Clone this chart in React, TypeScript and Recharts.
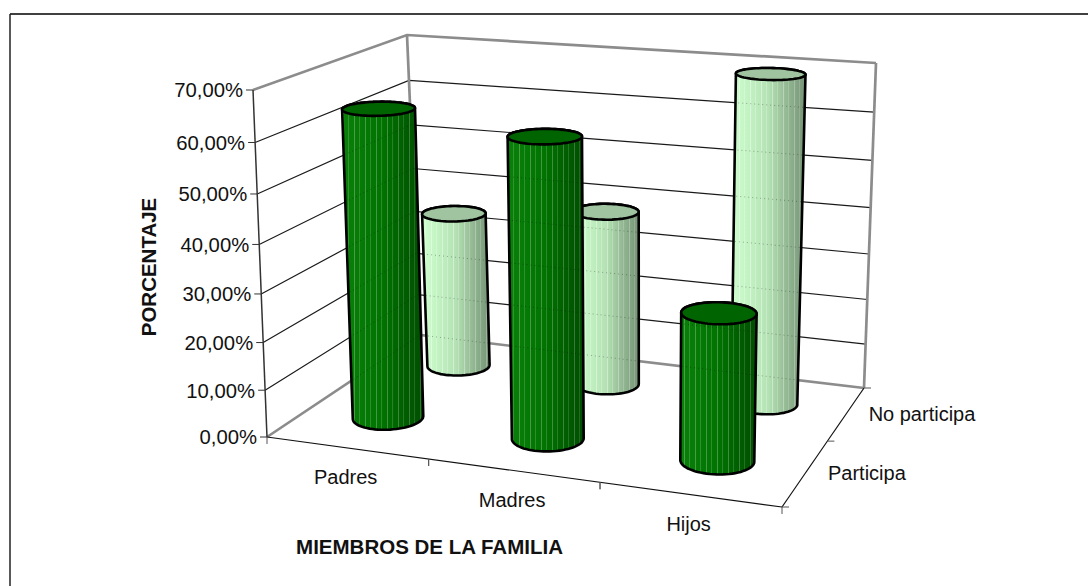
import { BarChart, Bar, XAxis, YAxis, CartesianGrid } from "recharts";

const categories = ["Padres", "Madres", "Hijos"];
const participa = [64.3, 61.3, 30];
const noParticipa = [35, 38.5, 69.5];
const yTicks = [0, 10, 20, 30, 40, 50, 60, 70];
const depthLabels = ["Participa", "No participa"];

const W = 1088;
const H = 586;
// los ejes ocupan 1px cada uno (con 0 no se dibujan)
const PLOT_X = 1;
const PLOT_W = W - 1;
const PLOT_H = H - 2;
const FONT = '"Liberation Sans", Arial, sans-serif';
const BAR_SIZE = 152;

const chartData = categories.map((name, i) => ({
  name,
  participa: participa[i],
  noParticipa: noParticipa[i],
}));

type Pt = [number, number];

// esquinas de la caja 3D en pantalla
const FBL: Pt = [267, 437];
const FBR: Pt = [782, 507];
const BBL: Pt = [420, 335];
const BBR: Pt = [864, 388];
const FTL: Pt = [253, 90];
const FTR: Pt = [788, 128];
const BTL: Pt = [407, 35];
const BTR: Pt = [876, 63];

const mix = (a: Pt, b: Pt, t: number): Pt => [
  a[0] + (b[0] - a[0]) * t,
  a[1] + (b[1] - a[1]) * t,
];

// perspectiva: cada eje se comprime un poco
const warp = (s: number, k: number) => (k * s) / (1 + (k - 1) * s);

// u: categorias, d: profundidad, z: valor (todos de 0 a 1)
function project(u: number, d: number, z: number): Pt {
  const uu = warp(u, 0.915);
  const dd = warp(d, 1.24);
  const zz = warp(z, 0.935);
  const bottom = mix(mix(FBL, FBR, uu), mix(BBL, BBR, uu), dd);
  const top = mix(mix(FTL, FTR, uu), mix(BTL, BTR, uu), dd);
  return mix(bottom, top, zz);
}

const toU = (x: number) => (x - PLOT_X) / PLOT_W;
const toZ = (y: number) => 1 - y / PLOT_H;

const toPath = (pts: Pt[], close = false) =>
  "M" + pts.map((p) => `${p[0].toFixed(1)},${p[1].toFixed(1)}`).join("L") + (close ? "Z" : "");

function convexHull(points: Pt[]): Pt[] {
  const pts = [...points].sort((a, b) => a[0] - b[0] || a[1] - b[1]);
  const cross = (o: Pt, a: Pt, b: Pt) =>
    (a[0] - o[0]) * (b[1] - o[1]) - (a[1] - o[1]) * (b[0] - o[0]);
  const half = (list: Pt[]) => {
    const out: Pt[] = [];
    list.forEach((p) => {
      while (out.length > 1 && cross(out[out.length - 2], out[out.length - 1], p) <= 0) out.pop();
      out.push(p);
    });
    out.pop();
    return out;
  };
  return [...half(pts), ...half(pts.reverse())];
}

const wallLine = (z: number) => [project(0, 0, z), project(0, 1, z), project(1, 1, z)];

// lineas de las paredes, con la escala del eje Y
function WallLine(props: any) {
  const z = toZ(props.y1);
  const isEdge = z < 0.001 || z > 0.999;
  return (
    <g key={props.key}>
      <path
        d={toPath(wallLine(z))}
        fill="none"
        stroke={isEdge ? "#8c8c8c" : "#1a1a1a"}
        strokeWidth={isEdge ? 2.7 : 1.2}
      />
      {z > 0.999 && (
        <>
          <path d={toPath([project(0, 1, 0), project(0, 1, 1)])} stroke="#8c8c8c" strokeWidth={2.7} />
          <path d={toPath([project(1, 1, 0), project(1, 1, 1)])} stroke="#8c8c8c" strokeWidth={2.7} />
        </>
      )}
    </g>
  );
}

function YTick({ y, payload, index }: any) {
  const z = toZ(y);
  const p = project(0, 0, z);
  return (
    <g>
      {index === 0 && (
        <path d={toPath([project(0, 0, 0), project(0, 0, 1)])} stroke="#333" strokeWidth={1.5} />
      )}
      <line x1={p[0] - 7} y1={p[1]} x2={p[0]} y2={p[1]} stroke="#333" />
      <text
        x={p[0] - 10}
        y={p[1]}
        dy="0.36em"
        textAnchor="end"
        fontFamily={FONT}
        fontSize={20.3}
        fill="#111"
      >
        {payload.value.toFixed(2).replace(".", ",")}%
      </text>
    </g>
  );
}

function XTick({ x, payload, index }: any) {
  const p = project(toU(x), 0, 0);
  const a = project(index / categories.length, 0, 0);
  const b = project((index + 1) / categories.length, 0, 0);
  return (
    <g>
      {index === 0 && (
        <path d={toPath([project(0, 0, 0), project(1, 0, 0)])} stroke="#111" strokeWidth={1.2} />
      )}
      <line x1={a[0]} y1={a[1]} x2={a[0]} y2={a[1] + 7} stroke="#555" />
      <line x1={b[0]} y1={b[1]} x2={b[0]} y2={b[1] + 7} stroke="#555" />
      <text
        x={p[0] - 1}
        y={p[1] + 29}
        dy="0.36em"
        textAnchor="middle"
        fontFamily={FONT}
        fontSize={20}
        fill="#111"
      >
        {payload.value}
      </text>
    </g>
  );
}

function DepthTick({ payload, index }: any) {
  const d = payload.value / depthLabels.length;
  const p = project(1, d, 0);
  const mid = project(1, d + 0.5 / depthLabels.length, 0);
  const label = depthLabels[index];
  return (
    <g>
      {index === 0 && (
        <path d={toPath([project(1, 0, 0), project(1, 1, 0)])} stroke="#111" strokeWidth={1.2} />
      )}
      <line x1={p[0]} y1={p[1]} x2={p[0] + 7} y2={p[1]} stroke="#555" />
      {label && (
        <text
          x={mid[0] + 22}
          y={mid[1] + 1}
          dy="0.36em"
          fontFamily={FONT}
          fontSize={20}
          fill="#111"
        >
          {label}
        </text>
      )}
    </g>
  );
}

// cilindro: recibe x, y, width, height de la escala de la barra
function cylinderShape(depth: number, scale: number, id: string, topColor: string, stripe: string) {
  return function Cylinder({ x, y, width, height, index }: any) {
    const cx = toU(x + width / 2);
    const ru = ((width / 2) * scale) / PLOT_W;
    const rd = 0.1;
    const zTop = toZ(y);
    const zBase = toZ(y + height);
    const circle = (z: number) =>
      Array.from({ length: 72 }, (_, i) => {
        const t = (i / 72) * Math.PI * 2;
        return project(cx + ru * Math.cos(t), depth + rd * Math.sin(t), z);
      });
    const top = circle(zTop);
    const body = toPath(convexHull([...top, ...circle(zBase)]), true);
    const clip = `${id}-clip-${index}`;
    return (
      <g>
        <clipPath id={clip}>
          <path d={body} />
        </clipPath>
        <path d={body} fill={`url(#${id}-base)`} />
        <path d={body} fill={`url(#${stripe})`} />
        <path d={body} fill="url(#shade)" />
        <g clipPath={`url(#${clip})`}>
          {yTicks.map((v) => (
            <path
              key={v}
              d={toPath(wallLine(v / 70))}
              fill="none"
              stroke="#000"
              strokeOpacity={0.3}
              strokeDasharray="1 3"
            />
          ))}
        </g>
        <path d={body} fill="none" stroke="#000" strokeWidth={2.6} />
        <path d={toPath(top, true)} fill={topColor} stroke="#000" strokeWidth={2.6} />
      </g>
    );
  };
}

const DarkCylinder = cylinderShape(0.25, 0.97, "dark", "#006400", "stripesDark");
const LightCylinder = cylinderShape(0.75, 0.94, "light", "#a0c4a0", "stripesLight");

export default function App() {
  return (
    <div style={{ position: "absolute", left: 0, top: 0, width: W, height: H }}>
      <BarChart
        width={W}
        height={H}
        data={chartData}
        margin={{ top: 0, right: 0, bottom: 0, left: 0 }}
        barSize={BAR_SIZE}
        barGap={-BAR_SIZE}
      >
        <defs>
          <linearGradient id="dark-base" x1="0" y1="0" x2="1" y2="0">
            <stop offset="0" stopColor="#0a800a" />
            <stop offset="0.5" stopColor="#007300" />
            <stop offset="1" stopColor="#005f00" />
          </linearGradient>
          <linearGradient id="light-base" x1="0" y1="0" x2="1" y2="0">
            <stop offset="0" stopColor="#cfffcf" />
            <stop offset="0.5" stopColor="#b4e2b4" />
            <stop offset="1" stopColor="#8fb48f" />
          </linearGradient>
          <linearGradient id="shade" x1="0" y1="0" x2="1" y2="0">
            <stop offset="0.5" stopColor="#000" stopOpacity={0} />
            <stop offset="1" stopColor="#000" stopOpacity={0.18} />
          </linearGradient>
          <pattern id="stripesDark" width={11} height={8} patternUnits="userSpaceOnUse">
            <rect x={2} width={1} height={8} fill="#fff" fillOpacity={0.26} />
            <rect x={7} width={1} height={8} fill="#fff" fillOpacity={0.17} />
          </pattern>
          <pattern id="stripesLight" width={11} height={8} patternUnits="userSpaceOnUse">
            <rect x={2} width={1} height={8} fill="#fff" fillOpacity={0.4} />
            <rect x={7} width={1} height={8} fill="#fff" fillOpacity={0.25} />
          </pattern>
        </defs>
        <CartesianGrid
          vertical={false}
          horizontal={WallLine}
          horizontalValues={yTicks}
          stroke="none"
          fill="none"
        />
        <XAxis dataKey="name" height={1} interval={0} axisLine={false} tickLine={false} tick={XTick} />
        <XAxis
          xAxisId="depth"
          type="number"
          domain={[0, depthLabels.length]}
          ticks={[0, 1, 2]}
          height={1}
          interval={0}
          axisLine={false}
          tickLine={false}
          tick={DepthTick}
        />
        <YAxis
          width={1}
          domain={[0, 70]}
          ticks={yTicks}
          interval={0}
          axisLine={false}
          tickLine={false}
          tick={YTick}
        />
        <Bar dataKey="noParticipa" shape={LightCylinder} isAnimationActive={false} />
        <Bar dataKey="participa" shape={DarkCylinder} isAnimationActive={false} />
        <line x1={10} y1={14} x2={W} y2={14} stroke="#000" strokeWidth={1.5} />
        <line x1={10} y1={14} x2={10} y2={H} stroke="#222" strokeWidth={1.5} />
        <text
          x={429.5}
          y={547}
          dy="0.36em"
          textAnchor="middle"
          fontFamily={FONT}
          fontSize={20.5}
          fontWeight="bold"
          fill="#111"
        >
          MIEMBROS DE LA FAMILIA
        </text>
        <text
          transform="translate(149,267) rotate(-90)"
          dy="0.36em"
          textAnchor="middle"
          fontFamily={FONT}
          fontSize={20.5}
          fontWeight="bold"
          fill="#111"
        >
          PORCENTAJE
        </text>
      </BarChart>
    </div>
  );
}
